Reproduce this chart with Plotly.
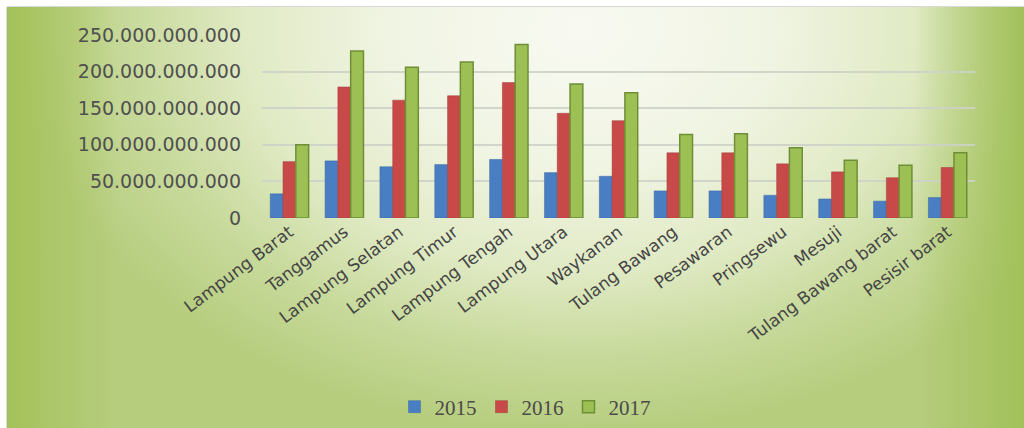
import base64
import plotly.graph_objects as go

# kabupaten names and yearly values (rupiah)
kabupaten = ["Lampung Barat", "Tanggamus", "Lampung Selatan", "Lampung Timur",
             "Lampung Tengah", "Lampung Utara", "Waykanan", "Tulang Bawang",
             "Pesawaran", "Pringsewu", "Mesuji", "Tulang Bawang barat", "Pesisir barat"]
th2015 = [33e9, 78e9, 70e9, 73e9, 80e9, 62e9, 57e9, 37e9, 37e9, 31e9, 26e9, 23e9, 28e9]
th2016 = [77e9, 179e9, 161e9, 167e9, 185e9, 143e9, 133e9, 89e9, 89e9, 74e9, 63e9, 55e9, 69e9]
th2017 = [100e9, 228e9, 206e9, 213e9, 237e9, 183e9, 171e9, 114e9, 115e9, 96e9, 79e9, 72e9, 89e9]
y_ticks = [0, 50e9, 100e9, 150e9, 200e9, 250e9]

W, H = 1024, 428
L, R, T, B = 262, 49, 35, 210

# green gradient background as an svg picture
svg = f'''<svg xmlns="http://www.w3.org/2000/svg" width="{W}" height="{H}">
<defs>
<radialGradient id="g" gradientUnits="userSpaceOnUse" cx="580" cy="30" r="560"
 gradientTransform="translate(580 30) scale(1 0.72) translate(-580 -30)">
<stop offset="0" stop-color="#f8faf2"/>
<stop offset="0.35" stop-color="#f0f4e2"/>
<stop offset="0.6" stop-color="#e0eac4"/>
<stop offset="0.8" stop-color="#c8da9c"/>
<stop offset="1" stop-color="#b6cd7e"/>
</radialGradient>
<linearGradient id="l" x1="0" x2="1" y1="0" y2="0">
<stop offset="0" stop-color="#a4c25a" stop-opacity="1"/>
<stop offset="1" stop-color="#a4c25a" stop-opacity="0"/>
</linearGradient>
<linearGradient id="r" x1="1" x2="0" y1="0" y2="0">
<stop offset="0" stop-color="#a2c15a" stop-opacity="1"/>
<stop offset="1" stop-color="#a2c15a" stop-opacity="0"/>
</linearGradient>
</defs>
<rect x="0" y="0" width="{W}" height="{H}" fill="#ffffff"/>
<rect x="7" y="7" width="{W-7}" height="{H-7}" fill="url(#g)"/>
<rect x="7" y="7" width="110" height="{H-7}" fill="url(#l)"/>
<rect x="{W-110}" y="7" width="110" height="{H-7}" fill="url(#r)"/>
<line x1="6.5" y1="7" x2="6.5" y2="{H}" stroke="#d8d8d8" stroke-width="1"/>
<line x1="7" y1="6.5" x2="{W}" y2="6.5" stroke="#d8d8d8" stroke-width="1"/>
</svg>'''
bg = "data:image/svg+xml;base64," + base64.b64encode(svg.encode()).decode()

pw, ph = W - L - R, H - T - B

fig = go.Figure()
fig.add_trace(go.Bar(x=kabupaten, y=th2015, name="2015",
                     marker=dict(color="#4a7ec2", line=dict(color="#3a68a6", width=0.5))))
fig.add_trace(go.Bar(x=kabupaten, y=th2016, name="2016",
                     marker=dict(color="#c74a48", line=dict(color="#a53c3a", width=0.5))))
fig.add_trace(go.Bar(x=kabupaten, y=th2017, name="2017",
                     marker=dict(color="#9cc054", line=dict(color="#6f8f35", width=1.5))))

fig.update_layout(
    width=W, height=H,
    margin=dict(l=L, r=R, t=T, b=B, autoexpand=False),
    paper_bgcolor="white",
    plot_bgcolor="rgba(0,0,0,0)",
    barmode="group", bargap=0.3, bargroupgap=0,
    separators=",.",
    showlegend=True,
    legend=dict(orientation="h", x=(525 - L) / pw, xanchor="center",
                y=-(407 - (H - B)) / ph, yanchor="middle",
                font=dict(family="Liberation Serif", size=21, color="#4a4a4a"),
                bgcolor="rgba(0,0,0,0)", itemwidth=30, tracegroupgap=0),
    images=[dict(source=bg, xref="paper", yref="paper",
                 x=-L / pw, y=(ph + T) / ph, sizex=W / pw, sizey=H / ph,
                 xanchor="left", yanchor="top", sizing="stretch", layer="below")],
)
fig.update_xaxes(tickangle=-37, showgrid=False, showline=False, ticks="",
                 tickfont=dict(family="DejaVu Sans", size=17, color="#454545"))
fig.update_yaxes(range=[0, 250e9], tickvals=y_ticks, tickformat=",d",
                 showgrid=True, gridcolor="rgba(205,210,200,0.9)", gridwidth=1.5,
                 zeroline=False, showline=False, ticks="", ticklabelstandoff=20,
                 tickfont=dict(family="DejaVu Sans", size=19, color="#505050"))

# drop the default page margin so the figure fills the window
fig.write_html("out.html", config={"displayModeBar": False},
               post_script="document.body.style.margin='0';document.body.style.overflow='hidden';")
